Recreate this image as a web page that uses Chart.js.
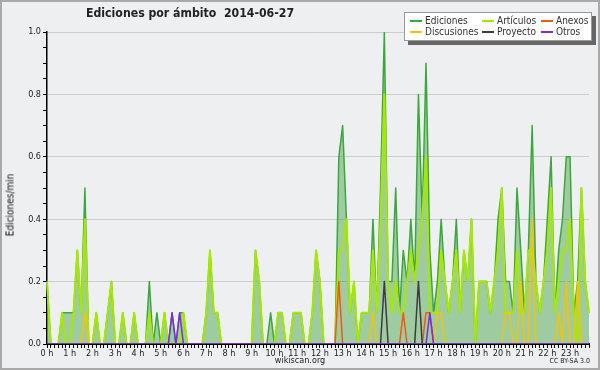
<!DOCTYPE html>
<html>
<head>
<meta charset="utf-8">
<script src="https://cdn.jsdelivr.net/npm/chart.js@4"></script>
<style>
  body { margin: 0; background: #eeeff1; }
  #wrap { position: relative; width: 600px; height: 370px; background: #eeeff1; overflow: hidden; font-family: 'DejaVu Sans Condensed', 'DejaVu Sans', sans-serif; color: #222; }
  #frame { position: absolute; left: 0; top: 0; width: 600px; height: 370px; box-sizing: border-box; border: 2px solid #a9a9a9; pointer-events: none; }
  #title { position: absolute; left: 86px; top: 6px; font-size: 12.2px; font-weight: bold; white-space: pre; }
  #ytitle { position: absolute; left: 10px; top: 205px; font-size: 10px; color: #111; transform: translate(-50%, -50%) rotate(-90deg); white-space: nowrap; }
  #site { position: absolute; left: 300px; top: 355px; transform: translateX(-50%); font-size: 9px; }
  #lic { position: absolute; right: 10px; top: 357px; font-size: 7px; }
  #legend { position: absolute; left: 404px; top: 12px; width: 186px; height: 27px; background: #fff; border: 1px solid #999; box-shadow: 4px 4px 0 #666; font-size: 10px; color: #333; }
  .item { position: absolute; white-space: nowrap; line-height: 11px; }
  .item i { position: absolute; left: -15px; top: 5px; width: 12px; height: 1.5px; }
</style>
</head>
<body>
<div id="wrap">
  <canvas id="chart" width="600" height="370"></canvas>
  <div id="title">Ediciones por ámbito  2014-06-27</div>
  <div id="ytitle">Ediciones/min</div>
  <div id="site">wikiscan.org</div>
  <div id="lic">CC BY-SA 3.0</div>
  <div id="legend"></div>
  <div id="frame"></div>
</div>
<script>
// 144 samples, one every 10 minutes (edits per minute)
const hourLabels = ['0 h', '1 h', '2 h', '3 h', '4 h', '5 h', '6 h', '7 h', '8 h', '9 h', '10 h', '11 h',
    '12 h', '13 h', '14 h', '15 h', '16 h', '17 h', '18 h', '19 h', '20 h', '21 h', '22 h', '23 h'];

const ediciones = [
    0.2, 0, 0, 0, 0.1, 0.1, 0.1, 0.1, 0.3, 0.1, 0.5, 0,
    0, 0.1, 0, 0, 0.1, 0.2, 0, 0, 0.1, 0, 0, 0.1,
    0, 0, 0, 0.2, 0, 0.1, 0, 0.1, 0, 0.1, 0, 0.1,
    0.1, 0, 0, 0, 0, 0, 0.1, 0.3, 0.1, 0.1, 0, 0,
    0, 0, 0, 0, 0, 0, 0, 0.3, 0.2, 0, 0, 0.1,
    0, 0.1, 0.1, 0, 0, 0.1, 0.1, 0.1, 0, 0, 0.1, 0.3,
    0.2, 0, 0, 0, 0, 0.6, 0.7, 0.4, 0.1, 0.2, 0, 0.1,
    0.1, 0.1, 0.4, 0.1, 0.5, 1.0, 0.2, 0.2, 0.5, 0.1, 0.3, 0.2,
    0.4, 0.2, 0.8, 0.4, 0.9, 0.3, 0.1, 0.2, 0.4, 0.2, 0.1, 0.2,
    0.4, 0.1, 0.3, 0.2, 0.4, 0, 0.2, 0.2, 0.2, 0.1, 0.2, 0.4,
    0.5, 0.2, 0.2, 0.1, 0.5, 0.3, 0.1, 0.3, 0.7, 0.2, 0.1, 0.2,
    0.4, 0.6, 0.1, 0.3, 0.4, 0.6, 0.6, 0.1, 0.2, 0.5, 0.2, 0.1
];

const articulos = [
    0.2, 0, 0, 0, 0.1, 0, 0, 0.1, 0.3, 0.1, 0.4, 0,
    0, 0.1, 0, 0, 0.1, 0.2, 0, 0, 0.1, 0, 0, 0.1,
    0, 0, 0, 0.1, 0, 0, 0, 0.1, 0, 0, 0, 0,
    0.1, 0, 0, 0, 0, 0, 0.1, 0.3, 0.1, 0.1, 0, 0,
    0, 0, 0, 0, 0, 0, 0, 0.3, 0.2, 0, 0, 0,
    0, 0.1, 0.1, 0, 0, 0.1, 0.1, 0.1, 0, 0, 0.1, 0.3,
    0.2, 0, 0, 0, 0, 0.3, 0.3, 0.4, 0.1, 0.2, 0, 0.1,
    0.1, 0.1, 0.3, 0.1, 0.4, 0.8, 0.2, 0.1, 0.2, 0.1, 0.1, 0.2,
    0.3, 0.2, 0.3, 0.4, 0.6, 0.1, 0.1, 0.1, 0.3, 0.2, 0.1, 0.2,
    0.3, 0.1, 0.3, 0.2, 0.4, 0, 0.2, 0.2, 0.2, 0.1, 0.2, 0.3,
    0.5, 0.1, 0.1, 0.1, 0.3, 0.1, 0.1, 0.3, 0.3, 0.2, 0.1, 0.2,
    0.3, 0.5, 0.1, 0.2, 0.3, 0.3, 0.4, 0.1, 0, 0.5, 0.2, 0.1
];

const discusiones = [
    0, 0, 0, 0, 0, 0, 0, 0, 0, 0, 0.1, 0,
    0, 0, 0, 0, 0, 0, 0, 0, 0, 0, 0, 0,
    0, 0, 0, 0, 0, 0, 0, 0, 0, 0, 0, 0,
    0, 0, 0, 0, 0, 0, 0, 0, 0, 0, 0, 0,
    0, 0, 0, 0, 0, 0, 0, 0, 0, 0, 0, 0,
    0, 0, 0, 0, 0, 0, 0, 0, 0, 0, 0, 0,
    0, 0, 0, 0, 0, 0, 0, 0, 0, 0, 0, 0,
    0, 0, 0.1, 0, 0, 0, 0, 0, 0, 0, 0, 0,
    0, 0, 0, 0, 0, 0, 0, 0.1, 0.1, 0, 0, 0,
    0, 0, 0, 0, 0, 0, 0, 0, 0, 0, 0, 0,
    0, 0.1, 0.1, 0, 0, 0.2, 0, 0, 0.4, 0, 0, 0,
    0, 0, 0, 0.1, 0, 0.2, 0, 0, 0.2, 0, 0, 0
];

const anexos = [
    0, 0, 0, 0, 0, 0, 0, 0, 0, 0, 0, 0,
    0, 0, 0, 0, 0, 0, 0, 0, 0, 0, 0, 0,
    0, 0, 0, 0, 0, 0, 0, 0, 0, 0, 0, 0,
    0, 0, 0, 0, 0, 0, 0, 0, 0, 0, 0, 0,
    0, 0, 0, 0, 0, 0, 0, 0, 0, 0, 0, 0,
    0, 0, 0, 0, 0, 0, 0, 0, 0, 0, 0, 0,
    0, 0, 0, 0, 0, 0.2, 0, 0, 0, 0, 0, 0,
    0, 0, 0, 0, 0, 0, 0, 0, 0, 0, 0.1, 0,
    0, 0, 0, 0, 0.1, 0.1, 0, 0, 0, 0, 0, 0,
    0, 0, 0, 0, 0, 0, 0, 0, 0, 0, 0, 0,
    0, 0, 0, 0, 0, 0, 0, 0, 0, 0, 0, 0,
    0, 0, 0, 0, 0, 0, 0, 0, 0, 0, 0, 0
];

const proyecto = [
    0, 0, 0, 0, 0, 0, 0, 0, 0, 0, 0, 0,
    0, 0, 0, 0, 0, 0, 0, 0, 0, 0, 0, 0,
    0, 0, 0, 0, 0, 0, 0, 0, 0, 0, 0, 0,
    0, 0, 0, 0, 0, 0, 0, 0, 0, 0, 0, 0,
    0, 0, 0, 0, 0, 0, 0, 0, 0, 0, 0, 0,
    0, 0, 0, 0, 0, 0, 0, 0, 0, 0, 0, 0,
    0, 0, 0, 0, 0, 0, 0, 0, 0, 0, 0, 0,
    0, 0, 0, 0, 0, 0.2, 0, 0, 0, 0, 0, 0,
    0, 0, 0.2, 0, 0, 0, 0, 0, 0, 0, 0, 0,
    0, 0, 0, 0, 0, 0, 0, 0, 0, 0, 0, 0,
    0, 0, 0, 0, 0, 0, 0, 0, 0, 0, 0, 0,
    0, 0, 0, 0, 0, 0, 0, 0, 0, 0, 0, 0
];

const otros = [
    0, 0, 0, 0, 0, 0, 0, 0, 0, 0, 0, 0,
    0, 0, 0, 0, 0, 0, 0, 0, 0, 0, 0, 0,
    0, 0, 0, 0, 0, 0, 0, 0, 0, 0.1, 0, 0.1,
    0, 0, 0, 0, 0, 0, 0, 0, 0, 0, 0, 0,
    0, 0, 0, 0, 0, 0, 0, 0, 0, 0, 0, 0,
    0, 0, 0, 0, 0, 0, 0, 0, 0, 0, 0, 0,
    0, 0, 0, 0, 0, 0, 0, 0, 0, 0, 0, 0,
    0, 0, 0, 0, 0, 0, 0, 0, 0, 0, 0, 0,
    0, 0, 0, 0, 0, 0.1, 0, 0, 0, 0, 0, 0,
    0, 0, 0, 0, 0, 0, 0, 0, 0, 0, 0, 0,
    0, 0, 0, 0, 0, 0, 0, 0, 0, 0, 0, 0,
    0, 0, 0, 0, 0, 0, 0, 0, 0, 0, 0, 0
];

// one label slot per 10-minute sample, hour text on the full hours
const labels = [];
hourLabels.forEach(h => { labels.push(h, '', '', '', '', ''); });

const series = [
    { name: 'Ediciones', data: ediciones, color: '#3da63d', width: 1.5 },
    { name: 'Artículos', data: articulos, color: '#a6e800', width: 2 },
    { name: 'Anexos', data: anexos, color: '#f05a14', width: 1.5 },
    { name: 'Discusiones', data: discusiones, color: '#f5c400', width: 1.5 },
    { name: 'Proyecto', data: proyecto, color: '#3c3c3c', width: 1.5 },
    { name: 'Otros', data: otros, color: '#7b2be2', width: 1.5 }
];

// draw order: Ediciones at the back, small namespaces on top
const drawOrder = { 'Ediciones': 6, 'Artículos': 5, 'Discusiones': 4, 'Anexos': 3, 'Proyecto': 2, 'Otros': 1 };

Chart.defaults.font.family = "'DejaVu Sans Condensed', 'DejaVu Sans', sans-serif";
Chart.defaults.font.size = 9;
Chart.defaults.color = '#222';

const isMajor = v => Math.abs(v * 5 - Math.round(v * 5)) < 1e-6;

new Chart(document.getElementById('chart'), {
    type: 'line',
    data: {
        labels: labels,
        datasets: series.map(s => ({
            label: s.name,
            data: s.data,
            borderColor: s.color,
            borderWidth: s.width,
            borderJoinStyle: 'round',
            backgroundColor: s.name === 'Ediciones' ? 'rgba(60,160,60,0.45)' : s.color,
            fill: s.name === 'Ediciones' ? 'origin' : false,
            pointRadius: 0,
            tension: 0,
            order: drawOrder[s.name]
        }))
    },
    options: {
        responsive: false,
        animation: false,
        layout: { padding: { left: 0, right: 11, top: 32, bottom: 0 } },
        plugins: { legend: { display: false }, tooltip: { enabled: false } },
        scales: {
            x: {
                z: 1,
                ticks: { autoSkip: false, maxRotation: 0, minRotation: 0, padding: 0 },
                grid: { drawOnChartArea: false, tickLength: 4, tickColor: '#000', tickWidth: 1 },
                border: { color: '#000', width: 2 },
                afterFit: s => { s.height = 26; }
            },
            y: {
                min: 0,
                max: 1,
                ticks: {
                    stepSize: 0.05,
                    autoSkip: false,
                    padding: 2,
                    callback: v => isMajor(v) ? v.toFixed(1) : ''
                },
                grid: {
                    color: ctx => isMajor(ctx.tick.value) ? '#cdcdcd' : 'rgba(0,0,0,0)',
                    tickColor: '#000',
                    tickLength: 4
                },
                border: { color: '#000', width: 1.5 },
                afterFit: s => { s.width = 47; }
            }
        }
    }
});

// legend box, 3 columns x 2 rows
const legendPos = [[20, 4], [92, 4], [151, 4], [20, 15], [92, 15], [151, 15]];
const legend = document.getElementById('legend');
series.forEach((s, k) => {
    const el = document.createElement('div');
    el.className = 'item';
    el.style.left = legendPos[k][0] + 'px';
    el.style.top = legendPos[k][1] - 2 + 'px';
    el.innerHTML = `<i style="background:${s.color}"></i>${s.name}`;
    legend.appendChild(el);
});
</script>
</body>
</html>
